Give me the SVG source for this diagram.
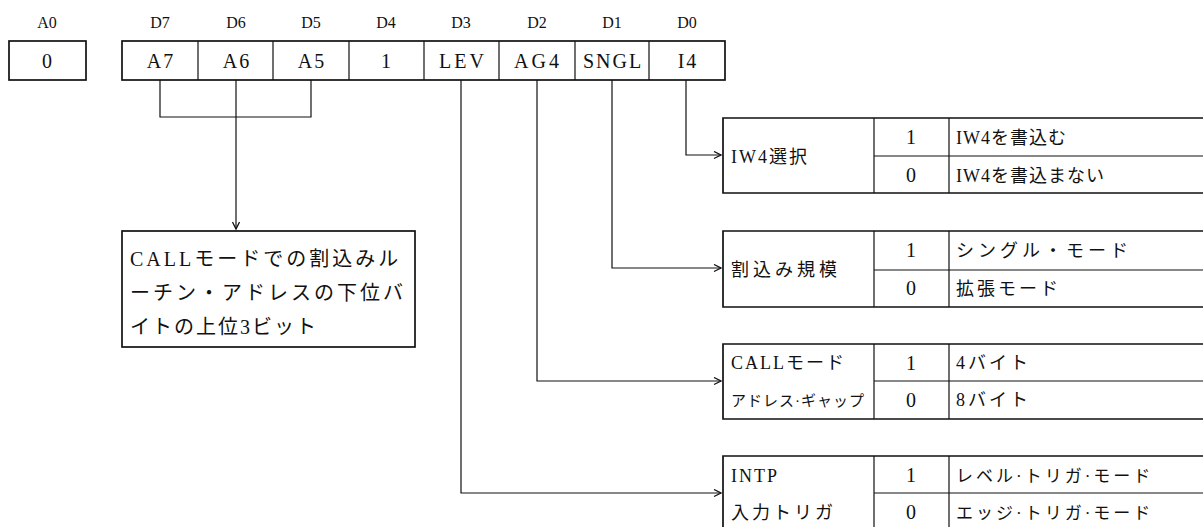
<svg xmlns="http://www.w3.org/2000/svg" width="1203" height="527" viewBox="0 0 1203 527">
<defs>
<style>
.hd{font-family:"Liberation Serif","Noto Sans CJK JP",serif;font-size:16px;text-anchor:middle;fill:#111}
.cl{font-family:"Liberation Serif","Noto Sans CJK JP",serif;font-size:20px;text-anchor:middle;fill:#111;letter-spacing:2px}
.tx{font-family:"Liberation Serif","Noto Sans CJK JP",serif;font-size:18px;fill:#111}
.bx{fill:none;stroke:#111;stroke-width:1.7}
.ln{fill:none;stroke:#111;stroke-width:1.2}
.cn{fill:none;stroke:#111;stroke-width:1.2}
</style>
<marker id="ah" markerWidth="10" markerHeight="10" refX="8" refY="4" orient="auto" markerUnits="userSpaceOnUse">
<path d="M1,0.5 L8,4 L1,7.5" fill="none" stroke="#111" stroke-width="1.3"/>
</marker>
</defs>
<rect width="1203" height="527" fill="#fff"/>

<g id="headers">
<text class="hd" x="47" y="28">A0</text>
<text class="hd" x="160" y="28">D7</text>
<text class="hd" x="236" y="28">D6</text>
<text class="hd" x="311" y="28">D5</text>
<text class="hd" x="386" y="28">D4</text>
<text class="hd" x="461" y="28">D3</text>
<text class="hd" x="537" y="28">D2</text>
<text class="hd" x="612" y="28">D1</text>
<text class="hd" x="687" y="28">D0</text>
</g>

<g id="a0box">
<rect class="bx" x="9" y="41" width="77" height="39"/>
<text class="cl" x="48" y="68">0</text>
</g>

<g id="register">
<rect class="bx" x="122" y="41" width="603" height="39"/>
<path class="ln" d="M198,41V80M273,41V80M349,41V80M424,41V80M499,41V80M575,41V80M649,41V80"/>
<text class="cl" x="161" y="68">A7</text>
<text class="cl" x="237" y="68">A6</text>
<text class="cl" x="312" y="68">A5</text>
<text class="cl" x="387" y="68">1</text>
<text class="cl" x="463" y="68" style="letter-spacing:3px">LEV</text>
<text class="cl" x="538" y="68" style="letter-spacing:3px">AG4</text>
<text class="cl" x="613" y="68" style="letter-spacing:2px">SNGL</text>
<text class="cl" x="688" y="68">I4</text>
</g>

<g id="connectors">
<path class="cn" d="M160,80V117H311V80"/>
<path class="cn" d="M236,80V229" marker-end="url(#ah)"/>
<path class="cn" d="M686,80V155H721" marker-end="url(#ah)"/>
<path class="cn" d="M612,80V268H721" marker-end="url(#ah)"/>
<path class="cn" d="M537,80V381H721" marker-end="url(#ah)"/>
<path class="cn" d="M461,80V493H721" marker-end="url(#ah)"/>
</g>

<g id="callbox">
<rect class="bx" x="122" y="231" width="293" height="116"/>
<text class="tx" x="130" y="266" style="font-size:20px;letter-spacing:3px">CALLモードでの割込みル</text>
<text class="tx" x="130" y="300" style="font-size:20px;letter-spacing:3px">ーチン・アドレスの下位バ</text>
<text class="tx" x="130" y="334" style="font-size:20px;letter-spacing:2px">イトの上位3ビット</text>
</g>

<g id="table-iw4">
<path class="bx" d="M1210,118H723V193H1210"/>
<path class="ln" d="M874,118V193M949,118V193M874,156H1210"/>
<text class="tx" x="731" y="163" style="letter-spacing:2px">IW4選択</text>
<text class="cl" x="912" y="144">1</text>
<text class="cl" x="912" y="182">0</text>
<text class="tx" x="956" y="144" style="letter-spacing:1px">IW4を書込む</text>
<text class="tx" x="956" y="182" style="letter-spacing:1px">IW4を書込まない</text>
</g>

<g id="table-sngl">
<path class="bx" d="M1210,231H723V307H1210"/>
<path class="ln" d="M874,231V307M949,231V307M874,270H1210"/>
<text class="tx" x="731" y="276" style="letter-spacing:4px">割込み規模</text>
<text class="cl" x="912" y="257">1</text>
<text class="cl" x="912" y="295">0</text>
<text class="tx" x="956" y="257" style="letter-spacing:4px">シングル・モード</text>
<text class="tx" x="956" y="295" style="letter-spacing:3px">拡張モード</text>
</g>

<g id="table-ag4">
<path class="bx" d="M1210,344H723V419H1210"/>
<path class="ln" d="M874,344V419M949,344V419M874,381H1210"/>
<text class="tx" x="731" y="369" style="letter-spacing:2px">CALLモード</text>
<text class="tx" x="731" y="406" style="font-size:15px;letter-spacing:1px">アドレス·ギャップ</text>
<text class="cl" x="912" y="370">1</text>
<text class="cl" x="912" y="407">0</text>
<text class="tx" x="956" y="369" style="letter-spacing:3px">4バイト</text>
<text class="tx" x="956" y="406" style="letter-spacing:3px">8バイト</text>
</g>

<g id="table-lev">
<path class="bx" d="M1210,456H723V540"/>
<path class="ln" d="M874,456V540M949,456V540M874,493H1210"/>
<text class="tx" x="731" y="482" style="letter-spacing:2px">INTP</text>
<text class="tx" x="731" y="519" style="letter-spacing:3px">入力トリガ</text>
<text class="cl" x="912" y="482">1</text>
<text class="cl" x="912" y="519">0</text>
<text class="tx" x="956" y="482" style="font-size:17px;letter-spacing:3px">レベル·トリガ·モード</text>
<text class="tx" x="956" y="519" style="font-size:17px;letter-spacing:3px">エッジ·トリガ·モード</text>
</g>
</svg>
